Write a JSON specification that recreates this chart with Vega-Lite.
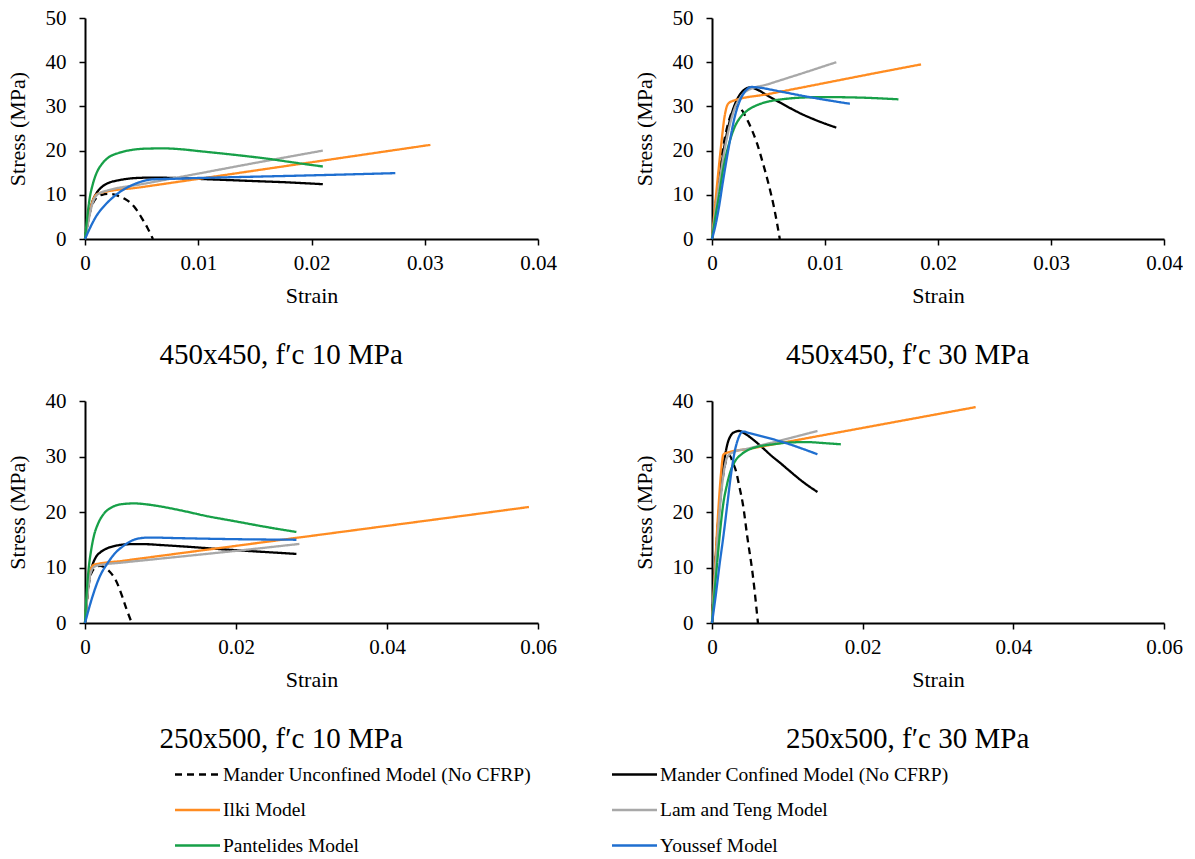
{
"$schema": "https://vega.github.io/schema/vega-lite/v6.json",
"background": "white",
"padding": {"left": 6, "top": 7, "right": 0, "bottom": 0},
"config": {
 "view": {"stroke": null},
 "axis": {"domainColor": "black", "domainWidth": 2, "tickColor": "black", "tickWidth": 1.5, "tickSize": 6, "labelFont": "Liberation Serif", "labelFontSize": 21, "labelColor": "black", "labelFlush": false, "labelOverlap": false, "titleFont": "Liberation Serif", "titleFontSize": 22, "titleFontWeight": "normal", "titleColor": "black", "grid": false},
 "axisX": {"labelPadding": 7, "titlePadding": 12},
 "axisY": {"labelPadding": 13, "titlePadding": 16},
 "title": {"orient": "bottom", "frame": "bounds", "anchor": "middle", "font": "Liberation Serif", "fontSize": 29, "fontWeight": "normal", "color": "black", "offset": 35},
 "legend": {"labelFont": "Liberation Serif", "labelFontSize": 19.5, "labelColor": "black", "symbolType": "M-2.1,0H0.9", "symbolSize": 900, "symbolStrokeWidth": 2.5, "columns": 2, "direction": "horizontal", "columnPadding": 76, "rowPadding": 9.5, "labelLimit": 600, "labelOffset": 0, "padding": 0}
},
"datasets": {
"p1": [
{"m":"Mander Unconfined Model (No CFRP)","x":0,"y":0},{"m":"Mander Unconfined Model (No CFRP)","x":0.0003,"y":4.5},{"m":"Mander Unconfined Model (No CFRP)","x":0.0006,"y":7.5},{"m":"Mander Unconfined Model (No CFRP)","x":0.001,"y":9.3},{"m":"Mander Unconfined Model (No CFRP)","x":0.0015,"y":10},{"m":"Mander Unconfined Model (No CFRP)","x":0.002,"y":10.2},{"m":"Mander Unconfined Model (No CFRP)","x":0.0025,"y":10.1},{"m":"Mander Unconfined Model (No CFRP)","x":0.003,"y":9.7},{"m":"Mander Unconfined Model (No CFRP)","x":0.0035,"y":9.1},{"m":"Mander Unconfined Model (No CFRP)","x":0.004,"y":8.2},{"m":"Mander Unconfined Model (No CFRP)","x":0.0045,"y":6.8},{"m":"Mander Unconfined Model (No CFRP)","x":0.005,"y":4.8},{"m":"Mander Unconfined Model (No CFRP)","x":0.0055,"y":2.6},{"m":"Mander Unconfined Model (No CFRP)","x":0.006,"y":0},
{"m":"Mander Confined Model (No CFRP)","x":0,"y":0},{"m":"Mander Confined Model (No CFRP)","x":0.0003,"y":4.5},{"m":"Mander Confined Model (No CFRP)","x":0.0006,"y":8},{"m":"Mander Confined Model (No CFRP)","x":0.001,"y":10.3},{"m":"Mander Confined Model (No CFRP)","x":0.0015,"y":11.8},{"m":"Mander Confined Model (No CFRP)","x":0.002,"y":12.6},{"m":"Mander Confined Model (No CFRP)","x":0.003,"y":13.3},{"m":"Mander Confined Model (No CFRP)","x":0.004,"y":13.7},{"m":"Mander Confined Model (No CFRP)","x":0.005,"y":13.85},{"m":"Mander Confined Model (No CFRP)","x":0.006,"y":13.9},{"m":"Mander Confined Model (No CFRP)","x":0.008,"y":13.8},{"m":"Mander Confined Model (No CFRP)","x":0.01,"y":13.6},{"m":"Mander Confined Model (No CFRP)","x":0.012,"y":13.4},{"m":"Mander Confined Model (No CFRP)","x":0.015,"y":13.1},{"m":"Mander Confined Model (No CFRP)","x":0.018,"y":12.8},{"m":"Mander Confined Model (No CFRP)","x":0.021,"y":12.4},
{"m":"Ilki Model","x":0,"y":0},{"m":"Ilki Model","x":0.0003,"y":4.5},{"m":"Ilki Model","x":0.0006,"y":8},{"m":"Ilki Model","x":0.0009,"y":9.8},{"m":"Ilki Model","x":0.0012,"y":10.3},{"m":"Ilki Model","x":0.005,"y":11.73},{"m":"Ilki Model","x":0.01,"y":13.6},{"m":"Ilki Model","x":0.015,"y":15.48},{"m":"Ilki Model","x":0.02,"y":17.36},{"m":"Ilki Model","x":0.025,"y":19.24},{"m":"Ilki Model","x":0.0305,"y":21.3},
{"m":"Lam and Teng Model","x":0,"y":0},{"m":"Lam and Teng Model","x":0.0003,"y":4},{"m":"Lam and Teng Model","x":0.0006,"y":7.5},{"m":"Lam and Teng Model","x":0.001,"y":9.8},{"m":"Lam and Teng Model","x":0.0015,"y":10.6},{"m":"Lam and Teng Model","x":0.002,"y":11},{"m":"Lam and Teng Model","x":0.005,"y":12.4},{"m":"Lam and Teng Model","x":0.01,"y":14.8},{"m":"Lam and Teng Model","x":0.015,"y":17.2},{"m":"Lam and Teng Model","x":0.021,"y":20},
{"m":"Pantelides Model","x":0,"y":0},{"m":"Pantelides Model","x":0.0002,"y":5},{"m":"Pantelides Model","x":0.0004,"y":9},{"m":"Pantelides Model","x":0.0007,"y":12.5},{"m":"Pantelides Model","x":0.001,"y":14.8},{"m":"Pantelides Model","x":0.0015,"y":17},{"m":"Pantelides Model","x":0.002,"y":18.3},{"m":"Pantelides Model","x":0.003,"y":19.5},{"m":"Pantelides Model","x":0.004,"y":20.1},{"m":"Pantelides Model","x":0.0055,"y":20.45},{"m":"Pantelides Model","x":0.007,"y":20.5},{"m":"Pantelides Model","x":0.0085,"y":20.3},{"m":"Pantelides Model","x":0.01,"y":19.9},{"m":"Pantelides Model","x":0.013,"y":19.1},{"m":"Pantelides Model","x":0.016,"y":18.2},{"m":"Pantelides Model","x":0.019,"y":17.1},{"m":"Pantelides Model","x":0.021,"y":16.4},
{"m":"Youssef Model","x":0,"y":0},{"m":"Youssef Model","x":0.0005,"y":2.8},{"m":"Youssef Model","x":0.001,"y":5.2},{"m":"Youssef Model","x":0.0015,"y":6.9},{"m":"Youssef Model","x":0.002,"y":8.3},{"m":"Youssef Model","x":0.003,"y":10.5},{"m":"Youssef Model","x":0.004,"y":12},{"m":"Youssef Model","x":0.005,"y":13},{"m":"Youssef Model","x":0.006,"y":13.5},{"m":"Youssef Model","x":0.0075,"y":13.6},{"m":"Youssef Model","x":0.01,"y":13.8},{"m":"Youssef Model","x":0.015,"y":14.1},{"m":"Youssef Model","x":0.02,"y":14.4},{"m":"Youssef Model","x":0.0274,"y":14.9}
],
"p2": [
{"m":"Mander Unconfined Model (No CFRP)","x":0,"y":0},{"m":"Mander Unconfined Model (No CFRP)","x":0.0003,"y":7.5},{"m":"Mander Unconfined Model (No CFRP)","x":0.0006,"y":14},{"m":"Mander Unconfined Model (No CFRP)","x":0.001,"y":21},{"m":"Mander Unconfined Model (No CFRP)","x":0.0015,"y":26.8},{"m":"Mander Unconfined Model (No CFRP)","x":0.002,"y":29.8},{"m":"Mander Unconfined Model (No CFRP)","x":0.0023,"y":30.2},{"m":"Mander Unconfined Model (No CFRP)","x":0.0028,"y":28.5},{"m":"Mander Unconfined Model (No CFRP)","x":0.0033,"y":26},{"m":"Mander Unconfined Model (No CFRP)","x":0.004,"y":21.5},{"m":"Mander Unconfined Model (No CFRP)","x":0.0045,"y":17.2},{"m":"Mander Unconfined Model (No CFRP)","x":0.005,"y":12.5},{"m":"Mander Unconfined Model (No CFRP)","x":0.0055,"y":7},{"m":"Mander Unconfined Model (No CFRP)","x":0.006,"y":0},
{"m":"Mander Confined Model (No CFRP)","x":0,"y":0},{"m":"Mander Confined Model (No CFRP)","x":0.0005,"y":10.5},{"m":"Mander Confined Model (No CFRP)","x":0.001,"y":19.5},{"m":"Mander Confined Model (No CFRP)","x":0.0015,"y":26},{"m":"Mander Confined Model (No CFRP)","x":0.002,"y":30.3},{"m":"Mander Confined Model (No CFRP)","x":0.0025,"y":32.8},{"m":"Mander Confined Model (No CFRP)","x":0.003,"y":34},{"m":"Mander Confined Model (No CFRP)","x":0.0034,"y":34.3},{"m":"Mander Confined Model (No CFRP)","x":0.004,"y":33.8},{"m":"Mander Confined Model (No CFRP)","x":0.005,"y":32.3},{"m":"Mander Confined Model (No CFRP)","x":0.006,"y":30.9},{"m":"Mander Confined Model (No CFRP)","x":0.007,"y":29.5},{"m":"Mander Confined Model (No CFRP)","x":0.008,"y":28.2},{"m":"Mander Confined Model (No CFRP)","x":0.009,"y":27.1},{"m":"Mander Confined Model (No CFRP)","x":0.01,"y":26.1},{"m":"Mander Confined Model (No CFRP)","x":0.011,"y":25.2},
{"m":"Ilki Model","x":0,"y":0},{"m":"Ilki Model","x":0.0004,"y":11},{"m":"Ilki Model","x":0.0008,"y":21},{"m":"Ilki Model","x":0.0011,"y":27.5},{"m":"Ilki Model","x":0.0014,"y":30.5},{"m":"Ilki Model","x":0.0018,"y":31.2},{"m":"Ilki Model","x":0.005,"y":32.8},{"m":"Ilki Model","x":0.01,"y":35.3},{"m":"Ilki Model","x":0.015,"y":37.8},{"m":"Ilki Model","x":0.0185,"y":39.5},
{"m":"Lam and Teng Model","x":0,"y":0},{"m":"Lam and Teng Model","x":0.0005,"y":10},{"m":"Lam and Teng Model","x":0.001,"y":18.5},{"m":"Lam and Teng Model","x":0.0015,"y":25},{"m":"Lam and Teng Model","x":0.002,"y":29.5},{"m":"Lam and Teng Model","x":0.0025,"y":32},{"m":"Lam and Teng Model","x":0.003,"y":33.4},{"m":"Lam and Teng Model","x":0.005,"y":35.05},{"m":"Lam and Teng Model","x":0.008,"y":37.5},{"m":"Lam and Teng Model","x":0.011,"y":40},
{"m":"Pantelides Model","x":0,"y":0},{"m":"Pantelides Model","x":0.0003,"y":5},{"m":"Pantelides Model","x":0.0006,"y":9.5},{"m":"Pantelides Model","x":0.001,"y":16},{"m":"Pantelides Model","x":0.0015,"y":21.5},{"m":"Pantelides Model","x":0.002,"y":25.3},{"m":"Pantelides Model","x":0.0025,"y":27.5},{"m":"Pantelides Model","x":0.003,"y":28.8},{"m":"Pantelides Model","x":0.004,"y":30.3},{"m":"Pantelides Model","x":0.005,"y":31.1},{"m":"Pantelides Model","x":0.0065,"y":31.7},{"m":"Pantelides Model","x":0.008,"y":32},{"m":"Pantelides Model","x":0.01,"y":32.1},{"m":"Pantelides Model","x":0.013,"y":32},{"m":"Pantelides Model","x":0.0165,"y":31.6},
{"m":"Youssef Model","x":0,"y":0},{"m":"Youssef Model","x":0.0003,"y":3},{"m":"Youssef Model","x":0.0006,"y":7},{"m":"Youssef Model","x":0.001,"y":13.5},{"m":"Youssef Model","x":0.0015,"y":21},{"m":"Youssef Model","x":0.002,"y":27.5},{"m":"Youssef Model","x":0.0025,"y":31.5},{"m":"Youssef Model","x":0.003,"y":33.6},{"m":"Youssef Model","x":0.0035,"y":34.4},{"m":"Youssef Model","x":0.004,"y":34.3},{"m":"Youssef Model","x":0.006,"y":33.4},{"m":"Youssef Model","x":0.008,"y":32.4},{"m":"Youssef Model","x":0.01,"y":31.5},{"m":"Youssef Model","x":0.0122,"y":30.6}
],
"p3": [
{"m":"Mander Unconfined Model (No CFRP)","x":0,"y":0},{"m":"Mander Unconfined Model (No CFRP)","x":0.0003,"y":4.5},{"m":"Mander Unconfined Model (No CFRP)","x":0.0006,"y":7.8},{"m":"Mander Unconfined Model (No CFRP)","x":0.001,"y":9.4},{"m":"Mander Unconfined Model (No CFRP)","x":0.0015,"y":10.1},{"m":"Mander Unconfined Model (No CFRP)","x":0.002,"y":10.3},{"m":"Mander Unconfined Model (No CFRP)","x":0.0025,"y":10.1},{"m":"Mander Unconfined Model (No CFRP)","x":0.003,"y":9.6},{"m":"Mander Unconfined Model (No CFRP)","x":0.0035,"y":8.9},{"m":"Mander Unconfined Model (No CFRP)","x":0.004,"y":7.9},{"m":"Mander Unconfined Model (No CFRP)","x":0.0045,"y":6.4},{"m":"Mander Unconfined Model (No CFRP)","x":0.005,"y":4.5},{"m":"Mander Unconfined Model (No CFRP)","x":0.0055,"y":2.5},{"m":"Mander Unconfined Model (No CFRP)","x":0.0062,"y":0},
{"m":"Mander Confined Model (No CFRP)","x":0,"y":0},{"m":"Mander Confined Model (No CFRP)","x":0.0003,"y":5},{"m":"Mander Confined Model (No CFRP)","x":0.0006,"y":8.3},{"m":"Mander Confined Model (No CFRP)","x":0.001,"y":10.5},{"m":"Mander Confined Model (No CFRP)","x":0.0015,"y":12},{"m":"Mander Confined Model (No CFRP)","x":0.002,"y":12.7},{"m":"Mander Confined Model (No CFRP)","x":0.003,"y":13.5},{"m":"Mander Confined Model (No CFRP)","x":0.004,"y":13.9},{"m":"Mander Confined Model (No CFRP)","x":0.006,"y":14.2},{"m":"Mander Confined Model (No CFRP)","x":0.008,"y":14.2},{"m":"Mander Confined Model (No CFRP)","x":0.01,"y":14.05},{"m":"Mander Confined Model (No CFRP)","x":0.014,"y":13.7},{"m":"Mander Confined Model (No CFRP)","x":0.018,"y":13.3},{"m":"Mander Confined Model (No CFRP)","x":0.022,"y":12.95},{"m":"Mander Confined Model (No CFRP)","x":0.028,"y":12.45},
{"m":"Ilki Model","x":0,"y":0},{"m":"Ilki Model","x":0.0003,"y":5},{"m":"Ilki Model","x":0.0006,"y":8.5},{"m":"Ilki Model","x":0.0009,"y":10.1},{"m":"Ilki Model","x":0.0012,"y":10.5},{"m":"Ilki Model","x":0.005,"y":11.2},{"m":"Ilki Model","x":0.01,"y":12.1},{"m":"Ilki Model","x":0.02,"y":13.9},{"m":"Ilki Model","x":0.03,"y":15.7},{"m":"Ilki Model","x":0.04,"y":17.5},{"m":"Ilki Model","x":0.05,"y":19.3},{"m":"Ilki Model","x":0.0588,"y":20.9},
{"m":"Lam and Teng Model","x":0,"y":0},{"m":"Lam and Teng Model","x":0.0003,"y":4.5},{"m":"Lam and Teng Model","x":0.0006,"y":8},{"m":"Lam and Teng Model","x":0.001,"y":9.8},{"m":"Lam and Teng Model","x":0.0015,"y":10.3},{"m":"Lam and Teng Model","x":0.002,"y":10.45},{"m":"Lam and Teng Model","x":0.005,"y":10.9},{"m":"Lam and Teng Model","x":0.01,"y":11.6},{"m":"Lam and Teng Model","x":0.02,"y":13.0},{"m":"Lam and Teng Model","x":0.0284,"y":14.25},
{"m":"Pantelides Model","x":0,"y":0},{"m":"Pantelides Model","x":0.0002,"y":5},{"m":"Pantelides Model","x":0.0005,"y":10},{"m":"Pantelides Model","x":0.0008,"y":13},{"m":"Pantelides Model","x":0.0012,"y":15.8},{"m":"Pantelides Model","x":0.0017,"y":17.8},{"m":"Pantelides Model","x":0.0025,"y":19.7},{"m":"Pantelides Model","x":0.0035,"y":20.8},{"m":"Pantelides Model","x":0.0048,"y":21.4},{"m":"Pantelides Model","x":0.0065,"y":21.55},{"m":"Pantelides Model","x":0.008,"y":21.4},{"m":"Pantelides Model","x":0.01,"y":21},{"m":"Pantelides Model","x":0.013,"y":20.2},{"m":"Pantelides Model","x":0.016,"y":19.3},{"m":"Pantelides Model","x":0.02,"y":18.3},{"m":"Pantelides Model","x":0.024,"y":17.3},{"m":"Pantelides Model","x":0.028,"y":16.4},
{"m":"Youssef Model","x":0,"y":0},{"m":"Youssef Model","x":0.0005,"y":2.5},{"m":"Youssef Model","x":0.001,"y":4.8},{"m":"Youssef Model","x":0.002,"y":8.5},{"m":"Youssef Model","x":0.003,"y":10.8},{"m":"Youssef Model","x":0.004,"y":12.6},{"m":"Youssef Model","x":0.005,"y":13.8},{"m":"Youssef Model","x":0.006,"y":14.7},{"m":"Youssef Model","x":0.007,"y":15.2},{"m":"Youssef Model","x":0.0085,"y":15.4},{"m":"Youssef Model","x":0.012,"y":15.3},{"m":"Youssef Model","x":0.02,"y":15.1},{"m":"Youssef Model","x":0.028,"y":15}
],
"p4": [
{"m":"Mander Unconfined Model (No CFRP)","x":0,"y":0},{"m":"Mander Unconfined Model (No CFRP)","x":0.0003,"y":7.5},{"m":"Mander Unconfined Model (No CFRP)","x":0.0006,"y":14},{"m":"Mander Unconfined Model (No CFRP)","x":0.001,"y":21},{"m":"Mander Unconfined Model (No CFRP)","x":0.0015,"y":26.8},{"m":"Mander Unconfined Model (No CFRP)","x":0.002,"y":29.8},{"m":"Mander Unconfined Model (No CFRP)","x":0.0023,"y":30.2},{"m":"Mander Unconfined Model (No CFRP)","x":0.0028,"y":28.8},{"m":"Mander Unconfined Model (No CFRP)","x":0.0032,"y":27.3},{"m":"Mander Unconfined Model (No CFRP)","x":0.0036,"y":24.8},{"m":"Mander Unconfined Model (No CFRP)","x":0.0041,"y":21.4},{"m":"Mander Unconfined Model (No CFRP)","x":0.0047,"y":15.4},{"m":"Mander Unconfined Model (No CFRP)","x":0.0054,"y":8.8},{"m":"Mander Unconfined Model (No CFRP)","x":0.0061,"y":0},
{"m":"Mander Confined Model (No CFRP)","x":0,"y":0},{"m":"Mander Confined Model (No CFRP)","x":0.0003,"y":7.5},{"m":"Mander Confined Model (No CFRP)","x":0.0006,"y":14},{"m":"Mander Confined Model (No CFRP)","x":0.001,"y":21.5},{"m":"Mander Confined Model (No CFRP)","x":0.0015,"y":28},{"m":"Mander Confined Model (No CFRP)","x":0.002,"y":32},{"m":"Mander Confined Model (No CFRP)","x":0.0025,"y":33.8},{"m":"Mander Confined Model (No CFRP)","x":0.003,"y":34.4},{"m":"Mander Confined Model (No CFRP)","x":0.0036,"y":34.6},{"m":"Mander Confined Model (No CFRP)","x":0.0045,"y":34},{"m":"Mander Confined Model (No CFRP)","x":0.0055,"y":33},{"m":"Mander Confined Model (No CFRP)","x":0.0067,"y":31.6},{"m":"Mander Confined Model (No CFRP)","x":0.008,"y":30},{"m":"Mander Confined Model (No CFRP)","x":0.009,"y":28.9},{"m":"Mander Confined Model (No CFRP)","x":0.0103,"y":27.4},{"m":"Mander Confined Model (No CFRP)","x":0.012,"y":25.5},{"m":"Mander Confined Model (No CFRP)","x":0.014,"y":23.6},
{"m":"Ilki Model","x":0,"y":0},{"m":"Ilki Model","x":0.0004,"y":10},{"m":"Ilki Model","x":0.0008,"y":19.5},{"m":"Ilki Model","x":0.0012,"y":27},{"m":"Ilki Model","x":0.0015,"y":30.3},{"m":"Ilki Model","x":0.0018,"y":30.6},{"m":"Ilki Model","x":0.005,"y":31.4},{"m":"Ilki Model","x":0.01,"y":32.65},{"m":"Ilki Model","x":0.02,"y":35.15},{"m":"Ilki Model","x":0.03,"y":37.65},{"m":"Ilki Model","x":0.035,"y":38.9},
{"m":"Lam and Teng Model","x":0,"y":0},{"m":"Lam and Teng Model","x":0.0004,"y":8.5},{"m":"Lam and Teng Model","x":0.0008,"y":16.5},{"m":"Lam and Teng Model","x":0.0012,"y":23},{"m":"Lam and Teng Model","x":0.0016,"y":27.5},{"m":"Lam and Teng Model","x":0.002,"y":29.8},{"m":"Lam and Teng Model","x":0.0027,"y":30.7},{"m":"Lam and Teng Model","x":0.005,"y":31.5},{"m":"Lam and Teng Model","x":0.01,"y":33.2},{"m":"Lam and Teng Model","x":0.014,"y":34.6},
{"m":"Pantelides Model","x":0,"y":0},{"m":"Pantelides Model","x":0.0003,"y":5},{"m":"Pantelides Model","x":0.0006,"y":9.5},{"m":"Pantelides Model","x":0.001,"y":15.5},{"m":"Pantelides Model","x":0.0015,"y":21.5},{"m":"Pantelides Model","x":0.002,"y":25},{"m":"Pantelides Model","x":0.0025,"y":27.5},{"m":"Pantelides Model","x":0.003,"y":29},{"m":"Pantelides Model","x":0.004,"y":30.5},{"m":"Pantelides Model","x":0.005,"y":31.3},{"m":"Pantelides Model","x":0.0065,"y":31.9},{"m":"Pantelides Model","x":0.0081,"y":32.2},{"m":"Pantelides Model","x":0.01,"y":32.5},{"m":"Pantelides Model","x":0.0125,"y":32.6},{"m":"Pantelides Model","x":0.015,"y":32.4},{"m":"Pantelides Model","x":0.0171,"y":32.2},
{"m":"Youssef Model","x":0,"y":0},{"m":"Youssef Model","x":0.0005,"y":5},{"m":"Youssef Model","x":0.001,"y":10.5},{"m":"Youssef Model","x":0.0015,"y":15.5},{"m":"Youssef Model","x":0.002,"y":21},{"m":"Youssef Model","x":0.0025,"y":26.5},{"m":"Youssef Model","x":0.003,"y":30.8},{"m":"Youssef Model","x":0.0035,"y":33.3},{"m":"Youssef Model","x":0.0041,"y":34.5},{"m":"Youssef Model","x":0.005,"y":34.2},{"m":"Youssef Model","x":0.007,"y":33.5},{"m":"Youssef Model","x":0.0094,"y":32.6},{"m":"Youssef Model","x":0.012,"y":31.4},{"m":"Youssef Model","x":0.014,"y":30.4}
]
},
"columns": 2,
"spacing": {"row": 162, "column": 174},
"bounds": "flush",
"concat": [
 {"data": {"name": "p1"}, "width": 453, "height": 221, "title": "450x450, f′c 10 MPa",
  "mark": {"type": "line", "interpolate": "monotone", "strokeWidth": 2.3},
  "encoding": {
   "x": {"field": "x", "type": "quantitative", "scale": {"domain": [0, 0.04], "nice": false}, "axis": {"values": [0, 0.01, 0.02, 0.03, 0.04], "format": "~g", "title": "Strain"}},
   "y": {"field": "y", "type": "quantitative", "scale": {"domain": [0, 50], "nice": false}, "axis": {"values": [0, 10, 20, 30, 40, 50], "title": "Stress (MPa)"}},
   "color": {"field": "m", "type": "nominal", "scale": {"domain": ["Mander Unconfined Model (No CFRP)", "Mander Confined Model (No CFRP)", "Ilki Model", "Lam and Teng Model", "Pantelides Model", "Youssef Model"], "range": ["#000000", "#000000", "#FF8C21", "#A8A8A8", "#17A048", "#1F6FD0"]}, "legend": {"title": null, "orient": "none", "legendX": 105, "legendY": 740}},
   "strokeDash": {"field": "m", "type": "nominal", "scale": {"domain": ["Mander Unconfined Model (No CFRP)", "Mander Confined Model (No CFRP)", "Ilki Model", "Lam and Teng Model", "Pantelides Model", "Youssef Model"], "range": [[7, 5], [1, 0], [1, 0], [1, 0], [1, 0], [1, 0]]}, "legend": {"title": null, "orient": "none", "legendX": 105, "legendY": 740}}
  }},
 {"data": {"name": "p2"}, "width": 452, "height": 221, "title": "450x450, f′c 30 MPa",
  "mark": {"type": "line", "interpolate": "monotone", "strokeWidth": 2.3},
  "encoding": {
   "x": {"field": "x", "type": "quantitative", "scale": {"domain": [0, 0.04], "nice": false}, "axis": {"values": [0, 0.01, 0.02, 0.03, 0.04], "format": "~g", "title": "Strain"}},
   "y": {"field": "y", "type": "quantitative", "scale": {"domain": [0, 50], "nice": false}, "axis": {"values": [0, 10, 20, 30, 40, 50], "title": "Stress (MPa)"}},
   "color": {"field": "m", "type": "nominal", "scale": {"domain": ["Mander Unconfined Model (No CFRP)", "Mander Confined Model (No CFRP)", "Ilki Model", "Lam and Teng Model", "Pantelides Model", "Youssef Model"], "range": ["#000000", "#000000", "#FF8C21", "#A8A8A8", "#17A048", "#1F6FD0"]}, "legend": {"title": null, "orient": "none", "legendX": 105, "legendY": 740}},
   "strokeDash": {"field": "m", "type": "nominal", "scale": {"domain": ["Mander Unconfined Model (No CFRP)", "Mander Confined Model (No CFRP)", "Ilki Model", "Lam and Teng Model", "Pantelides Model", "Youssef Model"], "range": [[7, 5], [1, 0], [1, 0], [1, 0], [1, 0], [1, 0]]}, "legend": {"title": null, "orient": "none", "legendX": 105, "legendY": 740}}
  }},
 {"data": {"name": "p3"}, "width": 453, "height": 222, "title": "250x500, f′c 10 MPa",
  "mark": {"type": "line", "interpolate": "monotone", "strokeWidth": 2.3},
  "encoding": {
   "x": {"field": "x", "type": "quantitative", "scale": {"domain": [0, 0.06], "nice": false}, "axis": {"values": [0, 0.02, 0.04, 0.06], "format": "~g", "title": "Strain"}},
   "y": {"field": "y", "type": "quantitative", "scale": {"domain": [0, 40], "nice": false}, "axis": {"values": [0, 10, 20, 30, 40], "title": "Stress (MPa)"}},
   "color": {"field": "m", "type": "nominal", "scale": {"domain": ["Mander Unconfined Model (No CFRP)", "Mander Confined Model (No CFRP)", "Ilki Model", "Lam and Teng Model", "Pantelides Model", "Youssef Model"], "range": ["#000000", "#000000", "#FF8C21", "#A8A8A8", "#17A048", "#1F6FD0"]}, "legend": {"title": null, "orient": "none", "legendX": 105, "legendY": 740}},
   "strokeDash": {"field": "m", "type": "nominal", "scale": {"domain": ["Mander Unconfined Model (No CFRP)", "Mander Confined Model (No CFRP)", "Ilki Model", "Lam and Teng Model", "Pantelides Model", "Youssef Model"], "range": [[7, 5], [1, 0], [1, 0], [1, 0], [1, 0], [1, 0]]}, "legend": {"title": null, "orient": "none", "legendX": 105, "legendY": 740}}
  }},
 {"data": {"name": "p4"}, "width": 452, "height": 222, "title": "250x500, f′c 30 MPa",
  "mark": {"type": "line", "interpolate": "monotone", "strokeWidth": 2.3},
  "encoding": {
   "x": {"field": "x", "type": "quantitative", "scale": {"domain": [0, 0.06], "nice": false}, "axis": {"values": [0, 0.02, 0.04, 0.06], "format": "~g", "title": "Strain"}},
   "y": {"field": "y", "type": "quantitative", "scale": {"domain": [0, 40], "nice": false}, "axis": {"values": [0, 10, 20, 30, 40], "title": "Stress (MPa)"}},
   "color": {"field": "m", "type": "nominal", "scale": {"domain": ["Mander Unconfined Model (No CFRP)", "Mander Confined Model (No CFRP)", "Ilki Model", "Lam and Teng Model", "Pantelides Model", "Youssef Model"], "range": ["#000000", "#000000", "#FF8C21", "#A8A8A8", "#17A048", "#1F6FD0"]}, "legend": {"title": null, "orient": "none", "legendX": 105, "legendY": 740}},
   "strokeDash": {"field": "m", "type": "nominal", "scale": {"domain": ["Mander Unconfined Model (No CFRP)", "Mander Confined Model (No CFRP)", "Ilki Model", "Lam and Teng Model", "Pantelides Model", "Youssef Model"], "range": [[7, 5], [1, 0], [1, 0], [1, 0], [1, 0], [1, 0]]}, "legend": {"title": null, "orient": "none", "legendX": 105, "legendY": 740}}
  }}
]
}
